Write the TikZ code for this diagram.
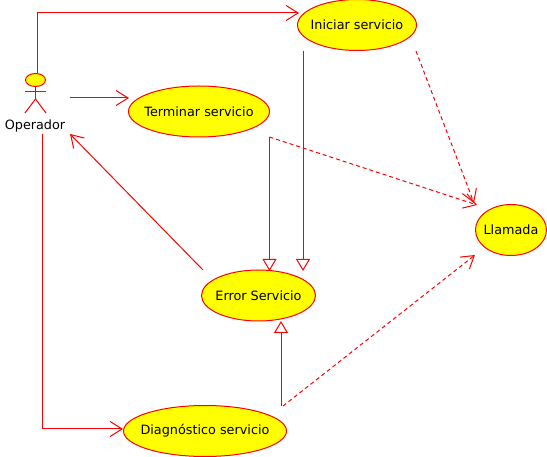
\documentclass[tikz,border=0pt]{standalone}
\usepackage{fontspec}
\setmainfont{DejaVu Sans}
\usetikzlibrary{shapes.geometric,arrows.meta}
\definecolor{case-yellow}{RGB}{255,255,0}
\tikzset{
    usecase/.style={ellipse, draw=red, fill=case-yellow, line width=1pt, inner xsep=-20pt, inner ysep=0pt, font=\fontsize{12.8}{15}\selectfont},
    link/.style={draw=red, line width=1pt},
    assoc/.style={link, -{Straight Barb[length=12pt,width=15pt,line width=1pt]}},
    depend/.style={assoc, dash pattern=on 4pt off 3pt},
    inherit/.style={link, -{Triangle[open,length=12pt,width=14pt,line width=1pt,fill=white]}}
}

\begin{document}
\begin{tikzpicture}[x=1pt, y=-1pt]
    \useasboundingbox (0,0) rectangle (547,457);

    % Use cases
    \node[usecase, minimum width=119pt, minimum height=51pt] (iniciar) at (357,25) {Iniciar servicio};
    \node[usecase, minimum width=141pt, minimum height=51pt] (terminar) at (199,111.5) {Terminar servicio};
    \node[usecase, minimum width=71pt, minimum height=51pt] (llamada) at (511,230) {Llamada};
    \node[usecase, minimum width=114pt, minimum height=51pt] (error) at (258.5,295.5) {Error Servicio};
    \node[usecase, minimum width=163pt, minimum height=51pt] (diag) at (205,431) {Diagnóstico servicio};

    % Actor
    \node[ellipse, draw=red, fill=case-yellow, line width=1pt, inner sep=0pt, minimum width=20pt, minimum height=13pt] (head) at (35.5,80) {};
    \node[font=\fontsize{12.8}{15}\selectfont, inner sep=0pt] (operador) at (35,126) {Operador};
    \coordinate (neck) at (35.5,99);
    \coordinate (armL) at (25,92);
    \coordinate (armR) at (46,92);
    \coordinate (legL) at (25,113);
    \coordinate (legR) at (46,113);
    \draw[link] (head) -- (neck);
    \draw[link] (armL) -- (armR);
    \draw[link] (legL) -- (neck) -- (legR);

    % Free ends
    \coordinate (opTop) at (37,73);
    \coordinate (opRight) at (70,98);
    \coordinate (opBottom) at (42,134);
    \coordinate (opIn) at (70,134);
    \coordinate (iniIn) at (299,13);
    \coordinate (terIn) at (129,98);
    \coordinate (diagIn) at (123,429);
    \coordinate (errOut) at (203,270);
    \coordinate (iniOut) at (303,51);
    \coordinate (iniOutB) at (416,51);
    \coordinate (terOut) at (269.5,137);
    \coordinate (errInA) at (269.5,271);
    \coordinate (errInB) at (303,271);
    \coordinate (errInC) at (281,321);
    \coordinate (diagOutA) at (281,406);
    \coordinate (diagOutB) at (283,406);
    \coordinate (llaInA) at (474,203);
    \coordinate (llaInB) at (477,205);
    \coordinate (llaInC) at (475,255);

    % Connections
    \draw[assoc] (opTop) |- (iniIn);
    \draw[assoc] (opRight) -- (terIn);
    \draw[assoc] (opBottom) |- (diagIn);
    \draw[assoc] (errOut) -- (opIn);
    \draw[inherit] (iniOut) -- (errInB);
    \draw[inherit] (terOut) -- (errInA);
    \draw[inherit] (diagOutA) -- (errInC);
    \draw[depend] (iniOutB) -- (llaInA);
    \draw[depend] (terOut) -- (llaInB);
    \draw[depend] (diagOutB) -- (llaInC);
\end{tikzpicture}
\end{document}
